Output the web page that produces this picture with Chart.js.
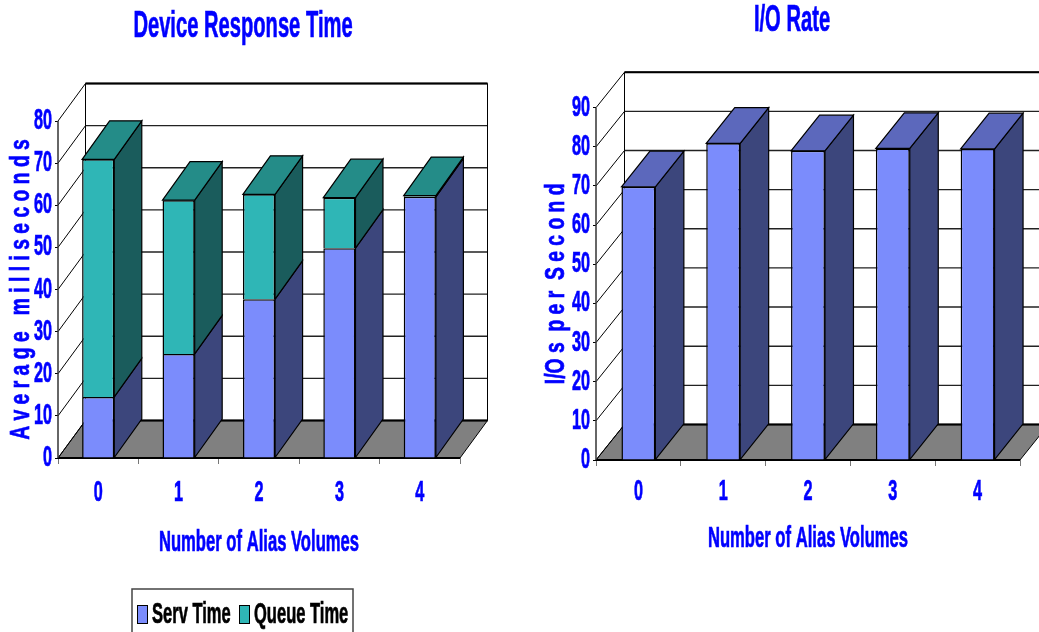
<!DOCTYPE html>
<html>
<head>
<meta charset="utf-8">
<title>Device Response Time and I/O Rate</title>
<script src="https://cdn.jsdelivr.net/npm/chart.js@4"></script>
<style>
    html, body { margin: 0; padding: 0; background: #fff; overflow: hidden; }
    #page { position: relative; width: 1039px; height: 632px; overflow: hidden; }
    canvas { position: absolute; top: 0; }
    #response { left: -20px; }
    #iorate { left: 535px; }
</style>
</head>
<body>
<div id="page">
    <canvas id="response" width="526" height="632"></canvas>
    <canvas id="iorate" width="504" height="632"></canvas>
</div>
<script>
"use strict";

const aliasVolumes = ['0', '1', '2', '3', '4'];
const servTime = [14.5, 24.7, 37.7, 49.8, 62];
const queueTime = [56.4, 36.5, 24.9, 12, 0.3];
const ioRate = [69.8, 80.9, 79, 79.6, 79.5];

const BLUE_TEXT = '#0000ff';
const FONT = '"Liberation Sans", Arial, sans-serif';
const SQUEEZE = 0.56;
const SQUEEZE_ROTATED = 0.69;

const PALETTE = {
    serv: { front: '#7b8cfc', side: '#3c467c', top: '#5c68bc' },
    queue: { front: '#2fb6b6', side: '#1a5c5c', top: '#248c88' },
};

// canvas text is squeezed sideways to get the tall condensed lettering,
// the rotated axis titles are a little wider than the rest
const condensedText = {
    id: 'condensedText',
    beforeInit(chart) {
        const ctx = chart.ctx;
        const fill = ctx.fillText;
        const stroke = ctx.strokeText;
        ctx.fillText = function(text, x, y) {
            const rotated = Math.abs(this.getTransform().b) > 0.5;
            this.save();
            this.translate(x, y);
            this.scale(rotated ? SQUEEZE_ROTATED : SQUEEZE, 1);
            this.strokeStyle = this.fillStyle;
            this.lineWidth = 0.7;
            stroke.call(this, text, 0, 0);
            fill.call(this, text, 0, 0);
            this.restore();
        };
    },
    // the plot is off centre in its canvas but the heading is not
    afterLayout(chart, args, opts) {
        chart.titleBlock.left += opts.titleShift;
        chart.titleBlock.right += opts.titleShift;
    },
};

// floor, back wall and side wall with their grid lines
const walls = {
    id: 'walls',
    beforeDatasetsDraw(chart, args, opts) {
        const ctx = chart.ctx;
        const area = chart.chartArea;
        const yScale = chart.scales.y;
        const dx = opts.dx, dy = opts.dy;
        const bottom = yScale.getPixelForValue(0);
        const top = yScale.getPixelForValue(yScale.max);

        ctx.save();
        ctx.fillStyle = '#808080';
        ctx.strokeStyle = '#000';
        ctx.lineWidth = 1;
        ctx.beginPath();
        ctx.moveTo(area.left, bottom);
        ctx.lineTo(area.left + dx, bottom - dy);
        ctx.lineTo(area.right + dx, bottom - dy);
        ctx.lineTo(area.right, bottom);
        ctx.closePath();
        ctx.fill();
        ctx.stroke();

        ctx.strokeStyle = '#222';
        ctx.lineWidth = 1.4;
        yScale.ticks.forEach(function(tick) {
            const y = yScale.getPixelForValue(tick.value);
            ctx.beginPath();
            ctx.moveTo(area.left + dx, y - dy);
            ctx.lineTo(area.right + dx, y - dy);
            ctx.stroke();
        });

        ctx.strokeStyle = '#000';
        ctx.lineWidth = 1;
        yScale.ticks.forEach(function(tick) {
            const y = yScale.getPixelForValue(tick.value);
            ctx.beginPath();
            ctx.moveTo(area.left, y);
            ctx.lineTo(area.left + dx, y - dy);
            ctx.stroke();
        });

        ctx.beginPath();
        ctx.moveTo(area.left + dx, bottom - dy);
        ctx.lineTo(area.left + dx, top - dy);
        ctx.moveTo(area.right + dx, bottom - dy);
        ctx.lineTo(area.right + dx, top - dy);
        ctx.stroke();

        ctx.lineWidth = 2;
        ctx.beginPath();
        ctx.moveTo(area.left + dx, top - dy);
        ctx.lineTo(area.right + dx, top - dy);
        ctx.moveTo(area.left + dx, bottom - dy);
        ctx.lineTo(area.right + dx, bottom - dy);
        ctx.moveTo(area.left, bottom);
        ctx.lineTo(area.right, bottom);
        ctx.stroke();

        ctx.strokeStyle = '#333';
        ctx.lineWidth = 1.5;
        ctx.beginPath();
        ctx.moveTo(area.left, top);
        ctx.lineTo(area.left, bottom);
        ctx.stroke();
        ctx.restore();
    },
};

function quad(ctx, pts, fillColor) {
    ctx.fillStyle = fillColor;
    ctx.beginPath();
    ctx.moveTo(pts[0][0], pts[0][1]);
    for (let i = 1; i < pts.length; i++) {
        ctx.lineTo(pts[i][0], pts[i][1]);
    }
    ctx.closePath();
    ctx.fill();
    ctx.stroke();
}

// side and top faces of each column, taken from the bar elements
const barDepth = {
    id: 'barDepth',
    afterDatasetsDraw(chart, args, opts) {
        const ctx = chart.ctx;
        const dx = opts.dx, dy = opts.dy;
        const lastSet = chart.data.datasets.length - 1;
        ctx.save();
        ctx.strokeStyle = '#000';
        ctx.lineWidth = 1.2;
        chart.data.datasets.forEach(function(set, d) {
            chart.getDatasetMeta(d).data.forEach(function(bar) {
                const right = bar.x + bar.width / 2;
                const left = bar.x - bar.width / 2;
                quad(ctx, [[right, bar.y], [right + dx, bar.y - dy], [right + dx, bar.base - dy], [right, bar.base]], set.sideColor);
                if (d === lastSet) {
                    quad(ctx, [[left, bar.y], [left + dx, bar.y - dy], [right + dx, bar.y - dy], [right, bar.y]], set.topColor);
                }
            });
        });
        ctx.restore();
    },
};

// boxed key below the left plot, x positions are canvas relative
const boxedKey = {
    id: 'boxedKey',
    afterDraw(chart, args, opts) {
        if (!opts.show) return;
        const ctx = chart.ctx;
        ctx.save();
        ctx.strokeStyle = '#444';
        ctx.lineWidth = 1.5;
        ctx.strokeRect(152, 589, 221, 60);
        ctx.textBaseline = 'middle';
        ctx.font = 'bold 29.5px ' + FONT;
        chart.data.datasets.forEach(function(set, i) {
            const x = opts.entries[i];
            ctx.fillStyle = set.backgroundColor;
            ctx.strokeStyle = '#000';
            ctx.lineWidth = 1;
            ctx.fillRect(x, 605, 11, 19);
            ctx.strokeRect(x + 0.5, 605.5, 10, 18);
            ctx.fillStyle = '#000';
            ctx.textAlign = 'left';
            ctx.fillText(set.label, x + 15, 615);
        });
        ctx.restore();
    },
};

function makeChart(id, cfg) {
    const blueFont = function(size) {
        return { family: FONT, size: size, weight: 'bold', lineHeight: 1.2 };
    };
    return new Chart(document.getElementById(id), {
        type: 'bar',
        data: { labels: aliasVolumes, datasets: cfg.datasets },
        plugins: [condensedText, walls, barDepth, boxedKey],
        options: {
            responsive: false,
            animation: false,
            layout: { autoPadding: false, padding: { right: cfg.padRight } },
            plugins: {
                legend: { display: false },
                tooltip: { enabled: false },
                title: {
                    display: true,
                    text: cfg.title,
                    color: BLUE_TEXT,
                    font: blueFont(36),
                    padding: cfg.titlePadding,
                },
                condensedText: { titleShift: cfg.titleShift },
                walls: { dx: cfg.dx, dy: cfg.dy },
                barDepth: { dx: cfg.dx, dy: cfg.barDy },
                boxedKey: { show: cfg.showKey, entries: [157, 259] },
            },
            scales: {
                x: {
                    stacked: true,
                    afterFit: function(scale) { scale.height = cfg.xAxisHeight; },
                    border: { display: false },
                    grid: { drawOnChartArea: false, tickLength: 6, color: '#777' },
                    ticks: {
                        color: BLUE_TEXT,
                        font: blueFont(29),
                        padding: cfg.xTickPad,
                        maxRotation: 0,
                        autoSkip: false,
                    },
                    title: {
                        display: true,
                        text: 'Number of Alias Volumes',
                        color: BLUE_TEXT,
                        font: blueFont(29.7),
                        padding: { top: 0, bottom: cfg.xTitlePad },
                    },
                },
                y: {
                    stacked: true,
                    min: 0,
                    max: cfg.yMax,
                    afterFit: function(scale) { scale.width = cfg.yAxisWidth; },
                    border: { display: false },
                    grid: { drawOnChartArea: false, tickLength: 3, color: '#000' },
                    ticks: {
                        stepSize: 10,
                        color: BLUE_TEXT,
                        font: blueFont(29),
                        padding: 3,
                    },
                    title: {
                        display: true,
                        text: cfg.yTitle,
                        color: BLUE_TEXT,
                        font: blueFont(28),
                        padding: { top: cfg.yTitlePad, bottom: 0 },
                    },
                },
            },
        },
    });
}

makeChart('response', {
    title: 'Device Response Time',
    yTitle: 'A v e r a g e   m i l l i s e c o n d s',
    yMax: 80,
    dx: 27.5,
    dy: 37.5,
    barDy: 38.5,
    padRight: 46,
    titleShift: 23,
    yAxisWidth: 78,
    xAxisHeight: 174,
    xTickPad: 12,
    xTitlePad: 71.5,
    yTitlePad: 24,
    titlePadding: { top: 5.4, bottom: 72.4 },
    showKey: true,
    datasets: [
        {
            label: 'Serv Time',
            data: servTime,
            backgroundColor: PALETTE.serv.front,
            sideColor: PALETTE.serv.side,
            topColor: PALETTE.serv.top,
            borderColor: '#000',
            borderWidth: 1.5,
            categoryPercentage: 0.4,
            barPercentage: 1,
        },
        {
            label: 'Queue Time',
            data: queueTime,
            backgroundColor: PALETTE.queue.front,
            sideColor: PALETTE.queue.side,
            topColor: PALETTE.queue.top,
            borderColor: '#000',
            borderWidth: 1.5,
            categoryPercentage: 0.4,
            barPercentage: 1,
        },
    ],
});

makeChart('iorate', {
    title: 'I/O Rate',
    yTitle: 'I/O s  p e r  S e c o n d',
    yMax: 90,
    dx: 28.5,
    dy: 35.5,
    barDy: 35.6,
    padRight: 19,
    titleShift: 14.5,
    yAxisWidth: 61,
    xAxisHeight: 172,
    xTickPad: 9,
    xTitlePad: 75,
    yTitlePad: 4,
    titlePadding: { top: -1, bottom: 65.5 },
    showKey: false,
    datasets: [
        {
            label: 'I/O Rate',
            data: ioRate,
            backgroundColor: PALETTE.serv.front,
            sideColor: PALETTE.serv.side,
            topColor: PALETTE.serv.top,
            borderColor: '#000',
            borderWidth: 1.5,
            categoryPercentage: 0.4,
            barPercentage: 1,
        },
    ],
});
</script>
</body>
</html>
